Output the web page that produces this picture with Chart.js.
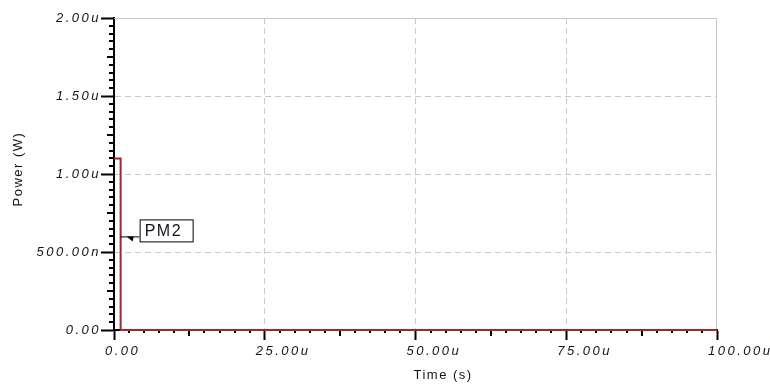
<!DOCTYPE html>
<html>
<head>
<meta charset="utf-8">
<script src="https://cdn.jsdelivr.net/npm/chart.js@4.4.0/dist/chart.umd.min.js"></script>
<style>
    html, body { margin: 0; padding: 0; background: #fff; }
    #wrap { width: 770px; height: 388px; }
</style>
</head>
<body>
<div id="wrap"><canvas id="power-chart" width="770" height="388"></canvas></div>
<script>
(function () {
    "use strict";

    // Trace PM2: time in microseconds, power in microwatts
    var timeUs = [0, 1.1, 1.1, 100];
    var powerUW = [1.1, 1.1, 0, 0];

    var xTickLabels = ["0.00", "25.00u", "50.00u", "75.00u", "100.00u"];
    var yTickLabels = ["0.00", "500.00n", "1.00u", "1.50u", "2.00u"];

    var traceName = "PM2";
    var xTitle = "Time (s)";
    var yTitle = "Power (W)";

    var labelColor = "#12121e";
    var gridColor = "#c9c9c9";
    var traceColor = "#a3262a";

    // text spacing is a canvas state, so it has to be set again after every resize
    var spacing = {
        id: "spacing",
        beforeLayout: function (chart) {
            chart.ctx.letterSpacing = "2.5px";
        },
        beforeDraw: function (chart) {
            chart.ctx.letterSpacing = "2.5px";
        }
    };

    // minor ticks, plot frame, axis titles and the trace tag
    var decorations = {
        id: "decorations",
        beforeDatasetsDraw: function (chart) {
            var ctx = chart.ctx;
            var a = chart.chartArea;
            var xs = chart.scales.x;
            var ys = chart.scales.y;
            var i, p, len;

            ctx.save();
            ctx.strokeStyle = gridColor;
            ctx.lineWidth = 1;
            ctx.beginPath();
            ctx.moveTo(a.left, a.top + 0.5);
            ctx.lineTo(a.right, a.top + 0.5);
            ctx.moveTo(a.right - 0.5, a.top);
            ctx.lineTo(a.right - 0.5, a.bottom);
            ctx.stroke();

            ctx.strokeStyle = "#000";
            ctx.lineWidth = 2;
            ctx.beginPath();
            for (i = 1; i < 40; i++) {
                if (i % 10 === 0) continue;
                len = i % 5 === 0 ? 6 : 3;
                p = Math.round(xs.getPixelForValue(i * 2.5));
                ctx.moveTo(p, a.bottom);
                ctx.lineTo(p, a.bottom + len);
                len = i % 5 === 0 ? 7 : 5;
                p = Math.round(ys.getPixelForValue(i * 0.05));
                ctx.moveTo(a.left, p);
                ctx.lineTo(a.left - len, p);
            }
            ctx.stroke();
            ctx.restore();
        },
        afterDraw: function (chart) {
            var ctx = chart.ctx;
            var a = chart.chartArea;
            var xs = chart.scales.x;
            var ys = chart.scales.y;

            ctx.save();
            ctx.letterSpacing = "1.5px";
            ctx.fillStyle = labelColor;
            ctx.font = "13px 'Liberation Sans', Arial, sans-serif";
            ctx.textBaseline = "middle";
            ctx.textAlign = "left";
            ctx.fillText(xTitle, xs.getPixelForValue(50) - 2, 375);

            ctx.translate(18, (a.top + a.bottom) / 2 - 5);
            ctx.rotate(-Math.PI / 2);
            ctx.textAlign = "center";
            ctx.fillText(yTitle, 0, 0);
            ctx.restore();

            // tag hanging off the falling edge
            var ax = xs.getPixelForValue(timeUs[2]);
            var ay = ys.getPixelForValue(0.6);
            var bx = ax + 19, by = ay - 17, bw = 53, bh = 22;

            ctx.save();
            ctx.strokeStyle = "#000";
            ctx.fillStyle = "#000";
            ctx.lineWidth = 1;
            ctx.beginPath();
            ctx.moveTo(ax, ay + 0.5);
            ctx.lineTo(bx, ay + 0.5);
            ctx.stroke();
            ctx.beginPath();
            ctx.moveTo(ax + 6, ay);
            ctx.lineTo(ax + 13, ay);
            ctx.lineTo(ax + 12, ay + 5);
            ctx.closePath();
            ctx.fill();

            ctx.fillStyle = "#fff";
            ctx.fillRect(bx, by, bw, bh);
            ctx.strokeRect(bx + 0.5, by + 0.5, bw, bh);

            ctx.letterSpacing = "1.5px";
            ctx.fillStyle = labelColor;
            ctx.font = "16px 'Liberation Sans', Arial, sans-serif";
            ctx.textBaseline = "middle";
            ctx.textAlign = "left";
            ctx.fillText(traceName, bx + 5, by + bh / 2 + 1);
            ctx.restore();
        }
    };

    var tickFont = { family: "'Liberation Sans', Arial, sans-serif", size: 13, style: "italic" };

    var ctx1 = document.getElementById("power-chart").getContext("2d");
    var myChart1 = new Chart(ctx1, {
        type: "line",
        data: {
            datasets: [
                {
                    label: traceName,
                    data: timeUs.map(function (t, i) {
                        return { x: t, y: powerUW[i] };
                    }),
                    borderColor: traceColor,
                    borderWidth: 2,
                    pointRadius: 0,
                    tension: 0,
                    fill: false,
                    clip: false
                }
            ]
        },
        options: {
            responsive: false,
            animation: false,
            devicePixelRatio: 1,
            layout: { padding: { left: 0, top: 18, right: 53, bottom: 0 } },
            plugins: {
                legend: { display: false },
                tooltip: { enabled: false }
            },
            scales: {
                x: {
                    type: "linear",
                    min: 0,
                    max: 100,
                    afterFit: function (scale) {
                        scale.height = 58;
                        scale.paddingLeft = 0;
                        scale.paddingRight = 0;
                    },
                    ticks: {
                        stepSize: 25,
                        autoSkip: false,
                        maxRotation: 0,
                        align: "start",
                        labelOffset: -9,
                        padding: 4,
                        color: labelColor,
                        font: tickFont,
                        callback: function (value, index) {
                            return xTickLabels[index];
                        }
                    },
                    grid: {
                        color: function (c) {
                            return c.index === 0 || c.index === 4 ? "rgba(0,0,0,0)" : gridColor;
                        },
                        lineWidth: 1,
                        tickColor: "#000",
                        tickWidth: 2,
                        tickLength: 10
                    },
                    border: { display: true, color: "#000", width: 2, dash: [6, 4], z: -1 }
                },
                y: {
                    type: "linear",
                    min: 0,
                    max: 2,
                    afterFit: function (scale) {
                        scale.width = 114;
                        scale.paddingTop = 0;
                        scale.paddingBottom = 0;
                    },
                    ticks: {
                        stepSize: 0.5,
                        autoSkip: false,
                        padding: 0,
                        color: labelColor,
                        font: tickFont,
                        callback: function (value, index) {
                            return yTickLabels[index];
                        }
                    },
                    grid: {
                        color: function (c) {
                            return c.index === 0 || c.index === 4 ? "rgba(0,0,0,0)" : gridColor;
                        },
                        lineWidth: 1,
                        tickColor: "#000",
                        tickWidth: 2,
                        tickLength: 13
                    },
                    border: { display: true, color: "#000", width: 2, dash: [6, 4], z: -1 }
                }
            }
        },
        plugins: [spacing, decorations]
    });
})();
</script>
</body>
</html>
